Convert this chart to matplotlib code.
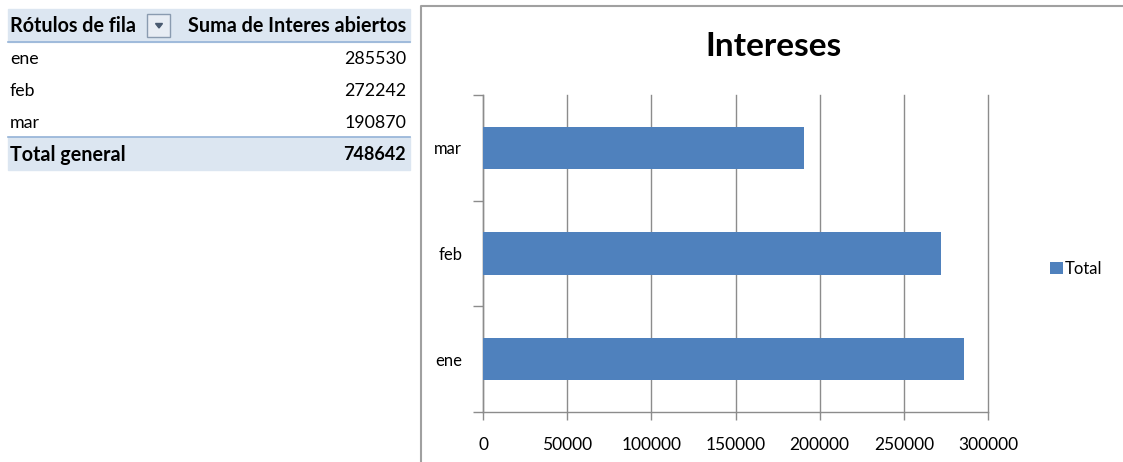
import matplotlib
matplotlib.use('Agg')
from matplotlib import pyplot as plt
from matplotlib.patches import Rectangle, Polygon
from matplotlib.lines import Line2D
from matplotlib.ticker import FuncFormatter

plt.rcParams['font.family'] = ['Lato', 'DejaVu Sans']

months = ['ene', 'feb', 'mar']
interes = [285530, 272242, 190870]
total_general = 748642
header = ['Rótulos de fila', 'Suma de Interes abiertos']
chart_title = 'Intereses'
series_name = 'Total'
xticks = [0, 50000, 100000, 150000, 200000, 250000, 300000]

W, H = 1123, 462
BAR = '#4F81BD'
GRID = '#8C8C8C'
HEAD_BG = '#DCE6F1'
HEAD_LINE = '#95B3D7'


def fx(px):
    return px / W


def fy(py):
    return 1 - py / H


fig = plt.figure(figsize=(W / 100, H / 100), dpi=100)
fig.patch.set_facecolor('white')

# ---- pivot table on the left ----
fig.patches.append(Rectangle((fx(8), fy(42)), fx(410) - fx(8), fy(9) - fy(42),
                             transform=fig.transFigure, color=HEAD_BG, zorder=0))
fig.lines.append(Line2D([fx(8), fx(410)], [fy(42), fy(42)], transform=fig.transFigure,
                        color=HEAD_LINE, lw=1.2))
fig.patches.append(Rectangle((fx(8), fy(170)), fx(410) - fx(8), fy(137) - fy(170),
                             transform=fig.transFigure, color=HEAD_BG, zorder=0))
fig.lines.append(Line2D([fx(8), fx(410)], [fy(137), fy(137)], transform=fig.transFigure,
                        color=HEAD_LINE, lw=1.2))

fs = 12.8
fsb = 14.2
fig.text(fx(10), fy(26), header[0], fontsize=fsb, fontweight='bold', va='center', ha='left')
fig.text(fx(406), fy(26), header[1], fontsize=fsb, fontweight='bold', va='center', ha='right')

# dropdown button
fig.patches.append(Rectangle((fx(147), fy(37)), fx(170) - fx(147), fy(14) - fy(37),
                             transform=fig.transFigure, facecolor='#E8EDF4',
                             edgecolor='#8A9BB0', lw=1))
fig.patches.append(Polygon([[fx(155.5), fy(23.5)], [fx(162.5), fy(23.5)], [fx(159), fy(28)]],
                           closed=True, transform=fig.transFigure, color='#4A5A70'))

row_y = [59, 91, 123]
for m, v, y in zip(months, interes, row_y):
    fig.text(fx(10), fy(y), m, fontsize=fs, va='center', ha='left')
    fig.text(fx(406), fy(y), str(v), fontsize=fs, va='center', ha='right')
fig.text(fx(10), fy(155), 'Total general', fontsize=fsb, fontweight='bold', va='center', ha='left')
fig.text(fx(406), fy(155), str(total_general), fontsize=13, fontweight='bold',
         va='center', ha='right')

# ---- chart frame ----
fig.lines.append(Line2D([fx(421), fx(421), fx(1130)], [fy(470), fy(6), fy(6)],
                        transform=fig.transFigure, color='#A0A0A0', lw=1.5))

ax = fig.add_axes([fx(483), fy(412), fx(988) - fx(483), fy(95) - fy(412)])
ax.barh(range(len(months)), interes, height=0.4, color=BAR, label=series_name, zorder=3)
ax.set_ylim(-0.5, 2.5)
ax.set_xlim(0, 300000)
ax.set_xticks(xticks)
ax.xaxis.set_major_formatter(FuncFormatter(lambda v, p: '%d' % v))
ax.set_yticks(range(len(months)))
ax.set_yticklabels(months)
ax.set_yticks([-0.5, 0.5, 1.5, 2.5], minor=True)
ax.tick_params(axis='y', which='major', length=0, pad=15, labelsize=12)
ax.tick_params(axis='y', which='minor', length=7, color=GRID, width=1)
ax.tick_params(axis='x', length=6, color=GRID, width=1, pad=12, labelsize=12.5)
ax.grid(axis='x', color=GRID, lw=1, zorder=0)
for gl in ax.get_xgridlines():
    gl.set_clip_on(False)
for s in ['top', 'right']:
    ax.spines[s].set_visible(False)
for s in ['left', 'bottom']:
    ax.spines[s].set_color(GRID)
    ax.spines[s].set_linewidth(1)

fig.text(fx(773), fy(47), chart_title, fontsize=24, fontweight='bold', ha='center', va='center')

fig.legend(loc='center left', bbox_to_anchor=(fx(1035), fy(269)), frameon=False,
           handlelength=0.75, handleheight=0.75, handletextpad=0.15, fontsize=12)

fig.savefig('out.png', dpi=100)
